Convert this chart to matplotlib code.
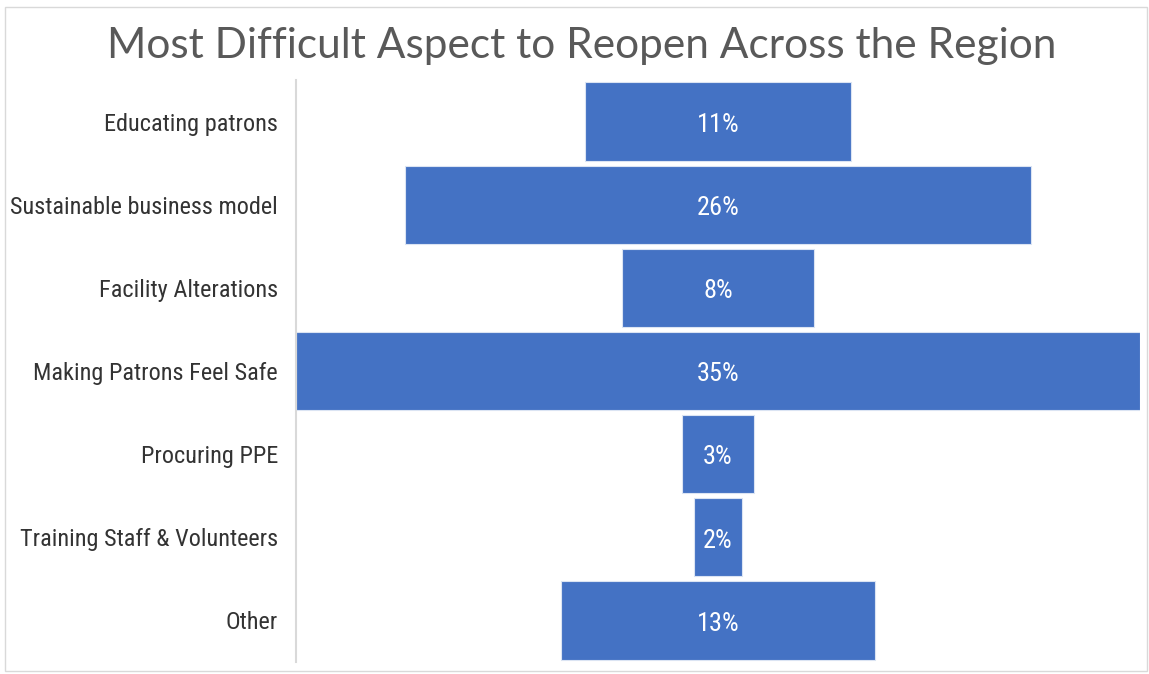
import matplotlib
matplotlib.use('Agg')
import matplotlib.pyplot as plt
from matplotlib.patches import Rectangle
from matplotlib import font_manager

# data
categories = ['Educating patrons', 'Sustainable business model', 'Facility Alterations',
              'Making Patrons Feel Safe', 'Procuring PPE', 'Training Staff & Volunteers', 'Other']
values = [11, 26, 8, 35, 3, 2, 13]
title = 'Most Difficult Aspect to Reopen Across the Region'

names = set(f.name for f in font_manager.fontManager.ttflist)
cond = 'Roboto Condensed' if 'Roboto Condensed' in names else 'DejaVu Sans'
title_family = 'Lato' if 'Lato' in names else 'DejaVu Sans'

W, H = 1149, 674
fig = plt.figure(figsize=(W / 100, H / 100), dpi=100)
fig.patch.set_facecolor('white')

# thin frame around the picture
fig.patches.append(Rectangle((5 / W, 3 / H), 1 - 7 / W, 1 - 10 / H, transform=fig.transFigure,
                             fill=False, edgecolor='#d9d9d9', linewidth=1))

ax = fig.add_axes([296 / W, 1 - 662 / H, (1140 - 296) / W, (662 - 80) / H])

ypos = list(range(len(categories)))
lefts = [-v / 2 for v in values]
ax.barh(ypos, values, left=lefts, height=0.94, color='#4472c4',
        edgecolor='#dbe4f3', linewidth=0.8)

for y, v in zip(ypos, values):
    ax.text(0, y + 0.04, f'{v}%', ha='center', va='center', color='white',
            family=cond, fontsize=19)

ax.set_xlim(-17.5, 17.5)
ax.set_ylim(len(categories) - 0.5, -0.5)
ax.set_yticks(ypos)
ax.set_yticklabels(categories, color='#333333', family=cond, fontsize=17.5)
ax.tick_params(axis='y', length=0, pad=13)
ax.set_xticks([])
for s in ['top', 'right', 'bottom']:
    ax.spines[s].set_visible(False)
ax.spines['left'].set_color('#d9d9d9')
ax.spines['left'].set_linewidth(1.5)

fig.text(582 / W, 1 - 46 / H, title, ha='center', va='center', fontsize=30.5,
         color='#595959', family=title_family, weight='normal')

fig.savefig('out.png', dpi=100, facecolor='white')
